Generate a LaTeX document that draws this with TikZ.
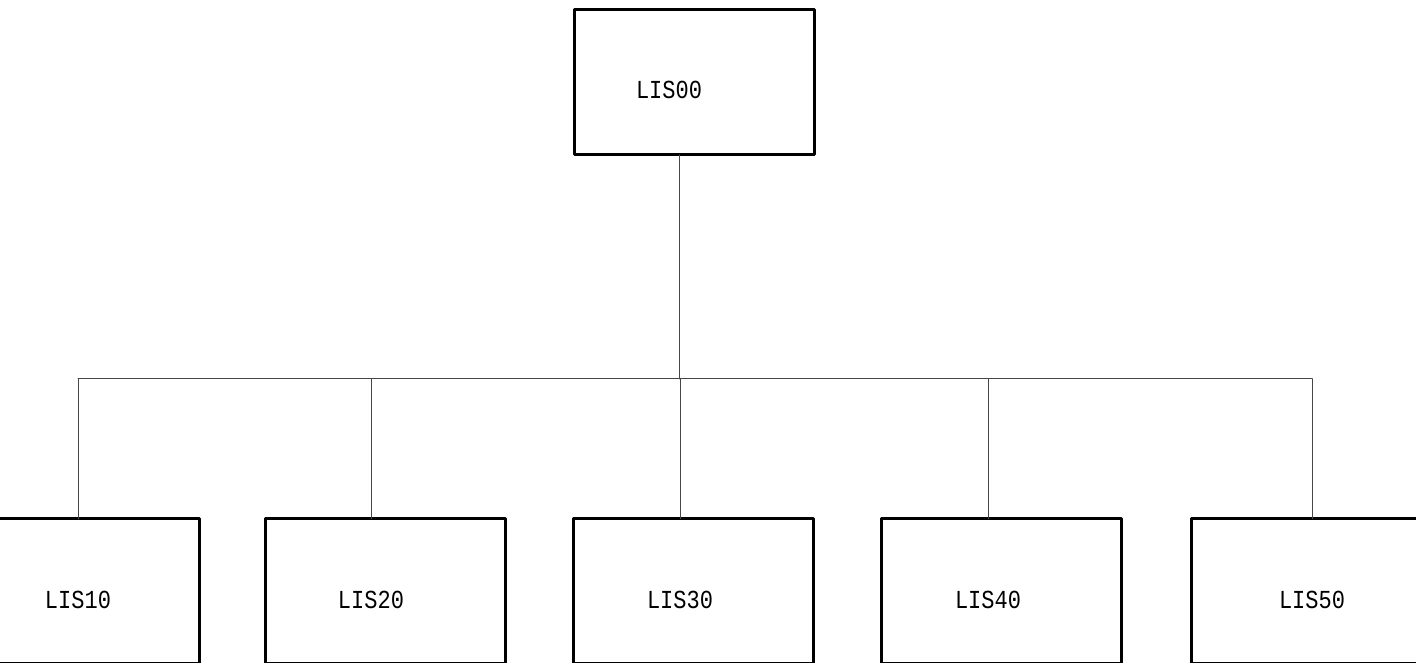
\documentclass[tikz,border=0pt]{standalone}
\usepackage{fontspec}
\setmonofont{Liberation Mono}
\usetikzlibrary{calc,positioning}
\begin{document}
\begin{tikzpicture}[x=1pt,y=1pt,
  boxNode/.style={draw=drawColor,line width=3pt,line join=round,minimum width=240pt,minimum height=145pt,inner sep=0pt,outer sep=0pt},
  labNode/.style={text=drawColor,inner sep=0pt,outer sep=0pt,yscale=1.18,font=\ttfamily\fontsize{22}{22}\selectfont},
  linkLine/.style={draw=linkColor,line width=1pt,line join=round,line cap=round}]
\definecolor{drawColor}{RGB}{0,0,0}
\definecolor{linkColor}{RGB}{70,70,70}
\definecolor{fillColor}{RGB}{255,255,255}
\path[use as bounding box,fill=fillColor] (0,0) rectangle (1416,663);
\begin{scope}
\path[clip] (0,0) rectangle (1416,663);

\node[boxNode] (b00) at ( 694.0,580.5) {};
\node[boxNode] (b10) at (  79.0, 71.5) {};
\node[boxNode] (b20) at ( 385.0, 71.5) {};
\node[boxNode] (b30) at ( 693.0, 71.5) {};
\node[boxNode] (b40) at (1001.5, 71.5) {};
\node[boxNode] (b50) at (1311.0, 71.5) {};

\node[labNode] (t00) at ( 669.0,573.0) {LIS00};
\node[labNode] (t10) at (  78.0, 63.0) {LIS10};
\node[labNode] (t20) at ( 371.0, 63.0) {LIS20};
\node[labNode] (t30) at ( 680.0, 63.0) {LIS30};
\node[labNode] (t40) at ( 988.0, 63.0) {LIS40};
\node[labNode] (t50) at (1312.0, 63.0) {LIS50};

\coordinate (bus) at (679.0,284.0);

\path[linkLine] (b00.south -| bus) -- (bus);
\path[linkLine] (bus -| t10) -- (bus -| t50);
\foreach \k in {10,20,30,40,50}
  \path[linkLine] (bus -| t\k) -- (b\k.north -| t\k);
\end{scope}
\end{tikzpicture}
\end{document}
